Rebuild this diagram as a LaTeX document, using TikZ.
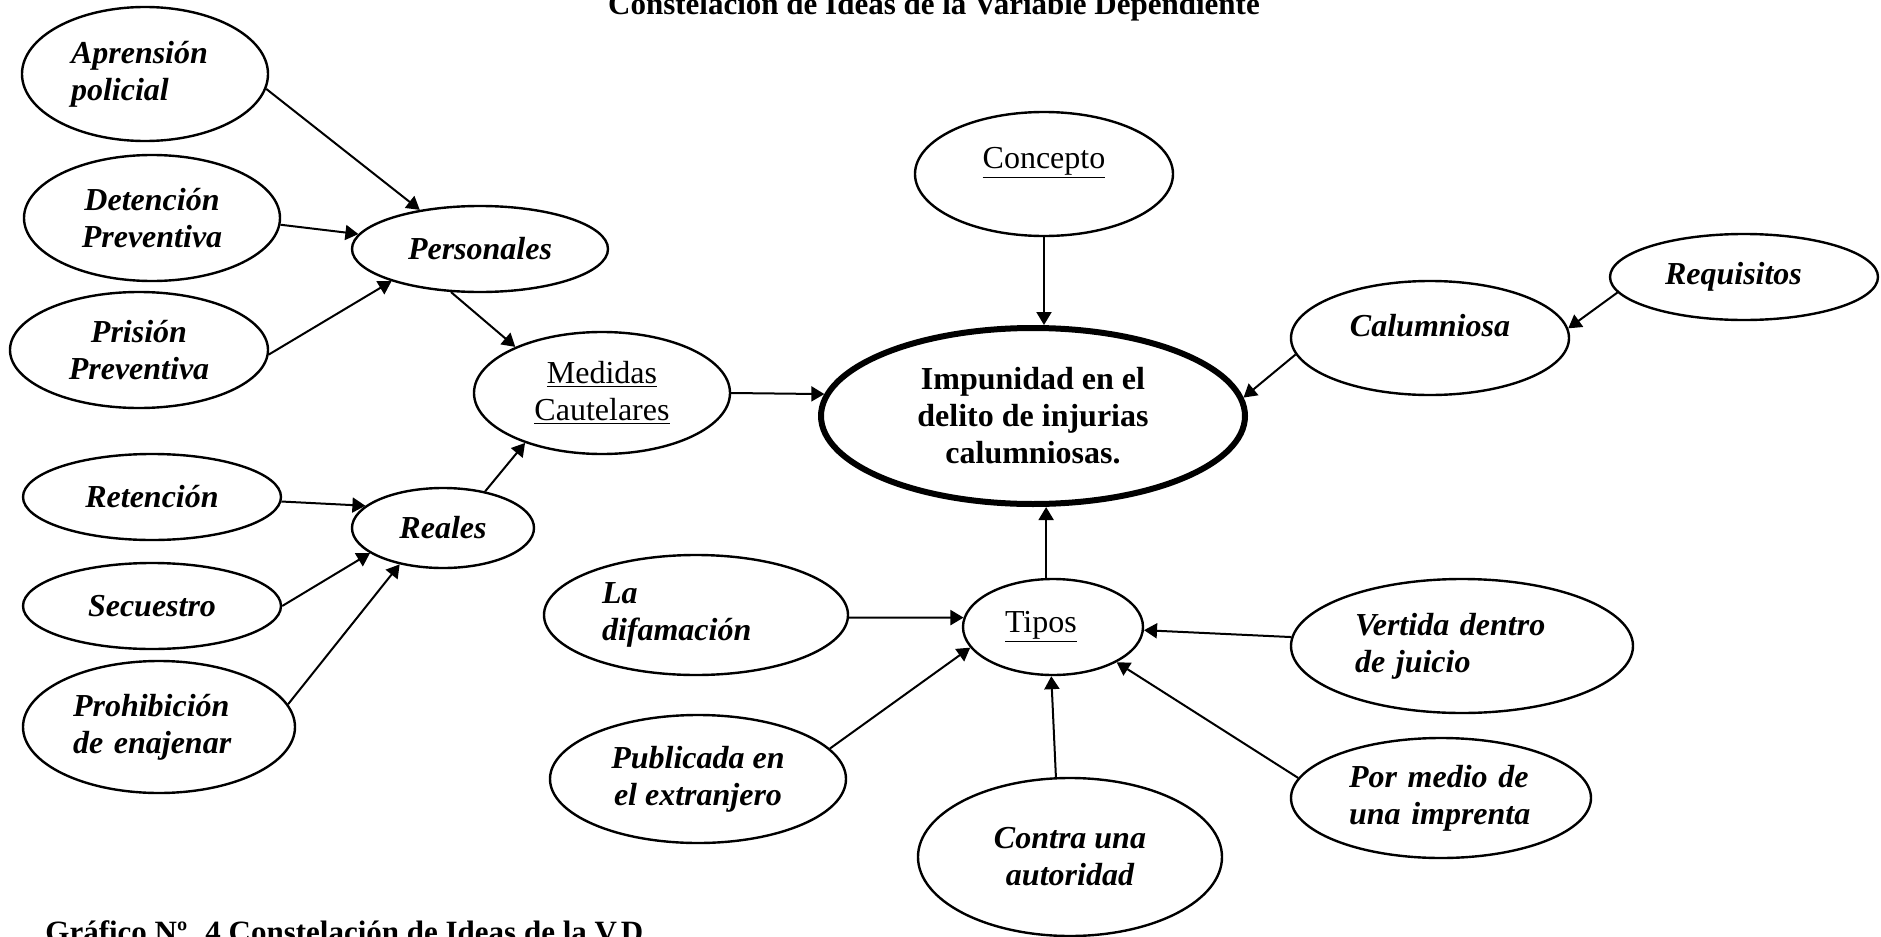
\documentclass[tikz,border=0pt]{standalone}
\usepackage{fontspec}
\setmainfont{Liberation Serif}
\usetikzlibrary{arrows.meta,shapes.geometric}
\begin{document}
\begin{tikzpicture}[x=0.5pt,y=-0.5pt,
  ell/.style={draw, ellipse, line width=1.2pt, inner sep=0pt, align=center},
  bi/.style={font=\fontsize{16}{18.5}\selectfont\bfseries\itshape},
  rg/.style={font=\fontsize{16}{18.5}\selectfont},
  bd/.style={font=\fontsize{16}{18.5}\selectfont\bfseries},
  captext/.style={font=\fontsize{15.5}{18}\selectfont\bfseries, inner sep=0pt},
  arr/.style={line width=1pt, -{Triangle[length=6.5pt,width=7.5pt]}},
]
\useasboundingbox (0,0) rectangle (1881,937);

% titles
\node[captext, anchor=base] (title) at (934,15) {Constelación de Ideas de la Variable Dependiente};
\node[captext, anchor=base west] (caption) at (45,942) {Gráfico Nº. 4 Constelación de Ideas de la V.D.};

% left cluster
\node[ell,bi,minimum width=123pt,minimum height=67pt,text width=74pt,align=left] (apr) at (145,74) {Aprensión\\policial};
\node[ell,bi,minimum width=128pt,minimum height=63pt] (det) at (152,218) {Detención\\Preventiva};
\node[ell,bi,minimum width=129pt,minimum height=58pt] (pri) at (139,350) {Prisión\\Preventiva};
\node[ell,bi,minimum width=128pt,minimum height=43pt] (per) at (480,249) {Personales};
\node[ell,rg,minimum width=128pt,minimum height=61pt] (med) at (602,393) {\underline{Medidas}\\\underline{Cautelares}};
\node[ell,bi,minimum width=129pt,minimum height=43pt] (ret) at (152,497) {Retención};
\node[ell,bi,minimum width=91pt,minimum height=40pt] (rea) at (443,528) {Reales};
\node[ell,bi,minimum width=129pt,minimum height=43pt] (sec) at (152,606) {Secuestro};
\node[ell,bi,minimum width=136pt,minimum height=66pt,text width=86pt,align=left] (pro) at (159,727) {Prohibición\\de~enajenar};

% centre and right
\node[ell,rg,minimum width=129pt,minimum height=62pt,text height=12pt,text depth=18pt] (con) at (1044,174) {\underline{Concepto}};
\node[ell,bd,line width=3pt,minimum width=212pt,minimum height=88pt] (imp) at (1033,416) {Impunidad en el\\delito de injurias\\calumniosas.};
\node[ell,bi,minimum width=139pt,minimum height=57pt,text height=12pt,text depth=14pt] (cal) at (1430,338) {Calumniosa};
\node[ell,bi,minimum width=134pt,minimum height=43pt,text width=79pt,align=left] (req) at (1744,277) {Requisitos};

% bottom cluster
\node[ell,rg,minimum width=90pt,minimum height=48pt,text width=48pt,align=left] (tip) at (1053,627) {\underline{Tipos}};
\node[ell,bi,minimum width=152pt,minimum height=60pt,text width=94pt,align=left] (dif) at (696,615) {La\\difamación};
\node[ell,bi,minimum width=148pt,minimum height=64pt] (pub) at (698,779) {Publicada en\\el extranjero};
\node[ell,bi,minimum width=152pt,minimum height=79pt] (ctr) at (1070,857) {Contra una\\autoridad};
\node[ell,bi,minimum width=171pt,minimum height=67pt,text width=107pt,align=left] (ver) at (1462,646) {Vertida dentro\\de juicio};
\node[ell,bi,minimum width=150pt,minimum height=60pt,text width=92pt,align=left] (por) at (1441,798) {Por medio de\\una imprenta};

% connectors
\draw[arr] (apr.-7) -- (per.147.5);
\draw[arr] (det.-3.6) -- (per.173.9);
\draw[arr] (pri.-2.2) -- (per.200.3);
\draw[arr] (per.236.6) -- (med.152.2);
\draw[arr] (rea.41) -- (med.213.1);
\draw[arr] (ret.-2.7) -- (rea.164.5);
\draw[arr] (sec.0.4) -- (rea.199.1);
\draw[arr] (pro.10.8) -- (rea.220.8);
\draw[arr] (med.-0.9) -- (imp.174.2);
\draw[arr] (con.south) -- (con.south |- imp.north);
\draw[arr] (tip.98.5) -- (tip.98.5 |- imp.south);
\draw[arr] (cal.187.2) -- (imp.5.8);
\draw[arr] (req.187) -- (cal.4.1);
\draw[arr] (dif.-1.1) -- (tip.174.2);
\draw[arr] (pub.13.8) -- (tip.194.3);
\draw[arr] (ctr.100) -- (tip.268);
\draw[arr] (ver.177.7) -- (tip.-2.5);
\draw[arr] (por.172.7) -- (tip.-29.6);
\end{tikzpicture}
\end{document}
